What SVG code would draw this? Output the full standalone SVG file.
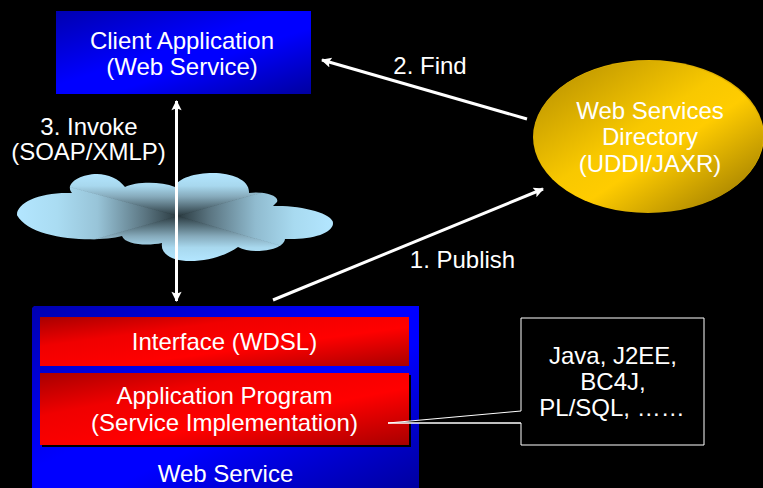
<svg xmlns="http://www.w3.org/2000/svg" width="763" height="488" viewBox="0 0 763 488">
<style>
text{font-family:"Liberation Sans",Arial,sans-serif;font-size:24px;fill:#fff;text-anchor:middle}
.w{stroke:#fff;stroke-width:3;fill:none}
</style>
<defs>
<linearGradient id="blue" x1="0" y1="0" x2="1" y2="1"><stop offset="0" stop-color="#0000b0"/><stop offset=".45" stop-color="#0000ff"/><stop offset=".6" stop-color="#0000ff"/><stop offset="1" stop-color="#0000a0"/></linearGradient>
<linearGradient id="red" x1="0" y1="0" x2="1" y2="1"><stop offset="0" stop-color="#a80000"/><stop offset=".3" stop-color="#f00000"/><stop offset=".6" stop-color="#ff0000"/><stop offset="1" stop-color="#a80000"/></linearGradient>
<linearGradient id="gold" x1="0" y1="0" x2="1" y2="1"><stop offset="0" stop-color="#b08a00"/><stop offset=".45" stop-color="#f8c800"/><stop offset=".58" stop-color="#ffcc00"/><stop offset=".9" stop-color="#a88400"/></linearGradient>
<linearGradient id="cl" gradientUnits="userSpaceOnUse" x1="17" y1="0" x2="178" y2="0"><stop offset="0" stop-color="#b3e6ff"/><stop offset=".25" stop-color="#aadcf2"/><stop offset=".5" stop-color="#98c4d8"/><stop offset=".8" stop-color="#5a7480"/><stop offset="1" stop-color="#2a3a40"/></linearGradient>
<linearGradient id="cr" gradientUnits="userSpaceOnUse" x1="333" y1="0" x2="178" y2="0"><stop offset="0" stop-color="#b3e6ff"/><stop offset=".25" stop-color="#a8daf0"/><stop offset=".5" stop-color="#90bbcf"/><stop offset=".8" stop-color="#5a7480"/><stop offset="1" stop-color="#2a3a40"/></linearGradient>
<linearGradient id="ct" gradientUnits="userSpaceOnUse" x1="0" y1="173" x2="0" y2="216"><stop offset="0" stop-color="#b3e6ff"/><stop offset=".3" stop-color="#a8d8ee"/><stop offset=".55" stop-color="#86aabb"/><stop offset="1" stop-color="#2a3a40"/></linearGradient>
<linearGradient id="cb" gradientUnits="userSpaceOnUse" x1="0" y1="261" x2="0" y2="216"><stop offset="0" stop-color="#b3e6ff"/><stop offset=".3" stop-color="#a8d8ee"/><stop offset=".55" stop-color="#86aabb"/><stop offset="1" stop-color="#2a3a40"/></linearGradient>
<clipPath id="cc"><path d="M17 215C17 203 38 193 67 193L72 193C64 184 80 174 97 174C108 174 119 179 125 187C135 182 160 181 175 187C178 178 195 173 213 173C232 173 250 180 249 193C262 191 280 195 277 202L273 206C300 205 333 213 333 223C333 234 310 240 285 239C284 247 270 251 257 251C250 251 243 250 238 247C225 256 208 261 190 261C172 261 160 254 162 243C148 246 125 245 122 236C95 243 30 240 17 215Z"/></clipPath>
<marker id="ah" viewBox="0 0 10 10" refX="9" refY="5" markerWidth="4" markerHeight="3.4" orient="auto-start-reverse" markerUnits="strokeWidth"><path d="M0 0L10 5L0 10L2 5Z" fill="#fff"/></marker>
</defs>
<rect width="763" height="488" fill="#000"/>
<g id="cloud" clip-path="url(#cc)">
<path d="M17 173L178 216L17 261Z" fill="url(#cl)" stroke="url(#cl)"/>
<path d="M333 173L178 216L333 261Z" fill="url(#cr)" stroke="url(#cr)"/>
<path d="M17 173L333 173L178 216Z" fill="url(#ct)"/>
<path d="M17 261L333 261L178 216Z" fill="url(#cb)"/>
</g>
<g id="client">
<rect x="56" y="11" width="255" height="83" fill="url(#blue)"/>
<text x="182" y="48.500">Client Application</text>
<text x="182" y="74.500">(Web Service)</text>
</g>
<g id="directory">
<ellipse cx="649" cy="136" rx="115" ry="76" fill="#e0b000"/>
<ellipse cx="648" cy="137" rx="115" ry="76" fill="url(#gold)"/>
<text x="650" y="119">Web Services</text>
<text x="650" y="145">Directory</text>
<text x="650" y="172">(UDDI/JAXR)</text>
</g>
<g id="webservice">
<path d="M34 306H419V488H32V308Z" fill="url(#blue)"/>
<rect x="40" y="317" width="369" height="49" fill="url(#red)"/>
<rect x="42" y="375" width="369" height="72" fill="#000"/>
<rect x="40" y="373" width="369" height="72" fill="url(#red)"/>
<text x="224.500" y="350">Interface (WDSL)</text>
<text x="224.500" y="404">Application Program</text>
<text x="224.500" y="431">(Service Implementation)</text>
<text x="225.500" y="482">Web Service</text>
</g>
<g id="callout">
<path d="M521 318H704V445H521V423H388L521 411Z" fill="#000" stroke="#fff" stroke-width="1"/>
<path d="M388 423H521" stroke="#fff" stroke-width="1"/>
<text x="613" y="364">Java, J2EE,</text>
<text x="613" y="390">BC4J,</text>
<text x="612" y="416">PL/SQL, ……</text>
</g>
<g id="connectors">
<path class="w" d="M527 119L322 60" marker-end="url(#ah)"/>
<path class="w" d="M273 300L543 189" marker-end="url(#ah)"/>
<path class="w" d="M176.500 301V101" marker-start="url(#ah)" marker-end="url(#ah)"/>
</g>
<g id="labels">
<text x="430" y="74">2. Find</text>
<text x="462.500" y="268">1. Publish</text>
<text x="89" y="135">3. Invoke</text>
<text x="88.500" y="160">(SOAP/XMLP)</text>
</g>
</svg>
